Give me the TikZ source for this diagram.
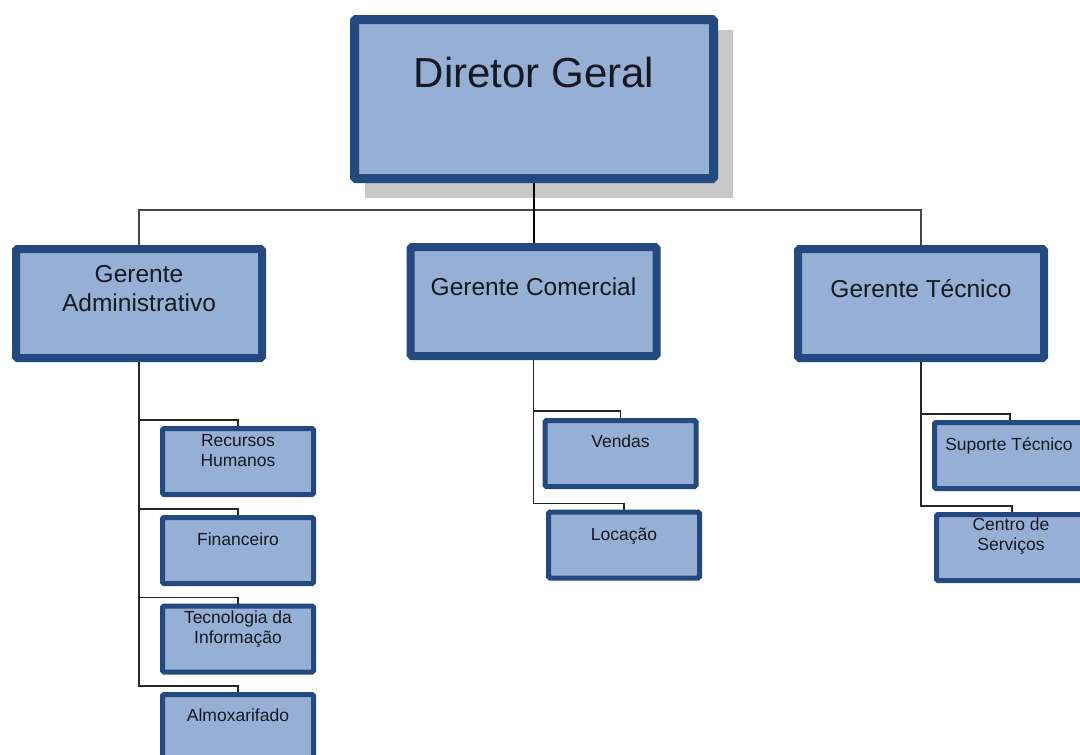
\documentclass[tikz,border=0pt]{standalone}
\usepackage{fontspec}
\setmainfont{Liberation Sans}
\usetikzlibrary{backgrounds}
\definecolor{boxfill}{RGB}{149,176,212}
\definecolor{boxdraw}{RGB}{36,72,128}
\definecolor{shadowgray}{RGB}{200,200,200}
\definecolor{txt}{RGB}{22,24,34}
\definecolor{linkgray}{RGB}{70,70,70}
\begin{document}
\begin{tikzpicture}[x=1pt,y=-1pt,
  box/.style={draw=boxdraw, fill=boxfill, rounded corners=1.5pt, inner sep=0pt, anchor=center},
  dirbox/.style={box, line width=9pt, minimum width=359pt, minimum height=159pt},
  mgrbox/.style={box, line width=8pt, minimum width=246pt, minimum height=109pt},
  subbox/.style={box, line width=5pt, minimum width=151pt, minimum height=66pt},
  dirtext/.style={text=txt, inner sep=0pt, font=\fontsize{42}{50}\selectfont},
  mgrtext/.style={text=txt, inner sep=0pt, align=center, font=\fontsize{24.5}{29.5}\selectfont},
  subtext/.style={text=txt, inner sep=0pt, align=center, font=\fontsize{17.5}{20}\selectfont},
  droplink/.style={draw=black, line width=2pt},
  barlink/.style={draw=linkgray, line width=1.4pt},
  link/.style={draw=black!85, line width=1.6pt},
]
\useasboundingbox (0,0) rectangle (1080,755);
\clip (0,0) rectangle (1080,755);

% Director
\node[dirbox] (dir) at (534,99) {};
\begin{scope}[on background layer]
  \fill[shadowgray] ([shift={(15,15)}]dir.north west) rectangle ([shift={(15,15)}]dir.south east);
\end{scope}
\node[dirtext, anchor=base] (dirT) at (534,87) {Diretor Geral};

% Managers
\node[mgrbox] (gerA) at (139,303.5) {};
\node[mgrtext, anchor=north] (gerAT) at (139,265) {Gerente\\Administrativo};
\node[mgrbox] (gerC) at (533.5,301.5) {};
\node[mgrtext, anchor=base] (gerCT) at (533.5,295) {Gerente Comercial};
\node[mgrbox] (gerT) at (921,303.5) {};
\node[mgrtext, anchor=base] (gerTT) at (921,297) {Gerente Técnico};

% Administrative units
\node[subbox] (rh) at (238,461.5) {};
\node[subtext, anchor=north] (rhT) at (238,434) {Recursos\\Humanos};
\node[subbox] (fin) at (238,550.5) {};
\node[subtext, anchor=base] (finT) at (238,545.5) {Financeiro};
\node[subbox] (ti) at (238,639) {};
\node[subtext, anchor=north] (tiT) at (238,611) {Tecnologia da\\Informação};
\node[subbox] (alm) at (238,727.5) {};
\node[subtext, anchor=base] (almT) at (238,721.5) {Almoxarifado};

% Commercial units
\node[subbox] (ven) at (620.5,453.5) {};
\node[subtext, anchor=base] (venT) at (620.5,447.5) {Vendas};
\node[subbox] (loc) at (624,545) {};
\node[subtext, anchor=base] (locT) at (624,540) {Locação};

% Technical units
\node[subbox] (sup) at (1010,455.5) {};
\node[subtext, anchor=base] (supT) at (1009,450.5) {Suporte Técnico};
\node[subbox] (cs) at (1012,547.5) {};
\node[subtext, anchor=north] (csT) at (1011,518) {Centro de\\Serviços};

% Connectors
\coordinate (bar) at (534,210);
\draw[barlink] (gerA.north) |- (bar) -| (gerT.north);
\draw[droplink] (dir.south) -- (dir.south |- gerC.north);

\draw[link] (gerA.south) |- ([yshift=6pt]rh.north) -- (rh.north);
\draw[link] (gerA.south) |- ([yshift=6pt]fin.north) -- (fin.north);
\draw[link] (gerA.south) |- ([yshift=6pt]ti.north) -- (ti.north);
\draw[link] (gerA.south) |- ([yshift=6pt]alm.north) -- (alm.north);

\draw[link] (gerC.south) |- ([yshift=7pt]ven.north) -- (ven.north);
\draw[link] (gerC.south) |- ([yshift=6pt]loc.north) -- (loc.north);

\draw[link] (gerT.south) |- ([yshift=6pt]sup.north) -- (sup.north);
\draw[link] (gerT.south) |- ([yshift=6pt]cs.north) -- (cs.north);
\end{tikzpicture}
\end{document}
